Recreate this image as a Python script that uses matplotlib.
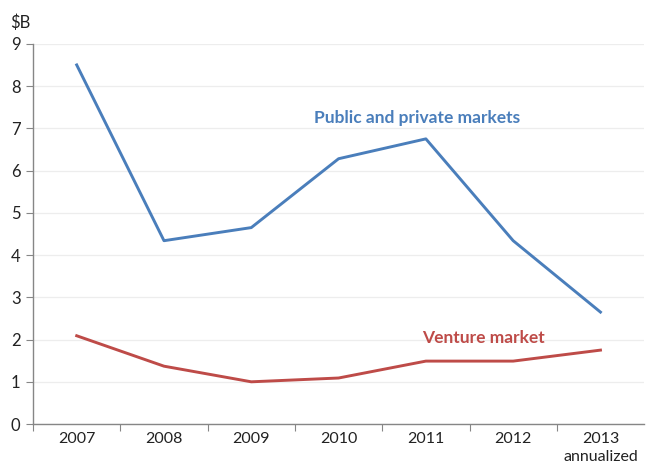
import matplotlib
matplotlib.use("Agg")
import matplotlib.pyplot as plt

years = ["2007", "2008", "2009", "2010", "2011", "2012", "2013\nannualized"]
public_private = [8.5, 4.34, 4.65, 6.28, 6.75, 4.34, 2.65]
venture = [2.09, 1.37, 1.0, 1.09, 1.49, 1.49, 1.75]

BLUE = "#4A7EBB"
RED = "#BE4B48"
AXIS = "#868686"

plt.rcParams["font.family"] = ["Lato", "DejaVu Sans"]

fig = plt.figure(figsize=(6.48, 4.66), dpi=100)
ax = fig.add_axes([0.051, 0.090, 0.943, 0.816])

x = list(range(len(years)))
ax.plot(x, public_private, color=BLUE, lw=2.1)
ax.plot(x, venture, color=RED, lw=2.1)

ax.set_xlim(-0.5, len(years) - 0.5)
ax.set_ylim(0, 9)
ax.set_yticks(range(0, 10))
ax.grid(axis="y", color="#EDEDED", lw=0.9)
ax.set_axisbelow(True)

# category boundaries get tick marks, labels sit in the middle
ax.set_xticks([i - 0.5 for i in range(len(years))])
ax.set_xticklabels([])
ax.set_xticks(x, minor=True)
ax.set_xticklabels(years, minor=True, fontsize=11.5, color="#222222", linespacing=1.35)
ax.tick_params(axis="x", which="minor", length=0, pad=6)
ax.tick_params(axis="x", which="major", length=5, color=AXIS, direction="out")
ax.tick_params(axis="y", length=5, color=AXIS, labelsize=12, labelcolor="#222222", pad=4)

for side in ["top", "right"]:
    ax.spines[side].set_visible(False)
for side in ["left", "bottom"]:
    ax.spines[side].set_color(AXIS)
    ax.spines[side].set_linewidth(1.0)

ax.text(3.9, 7.25, "Public and private markets", color=BLUE, fontsize=12.5,
        fontweight="bold", ha="center", va="center")
ax.text(4.66, 2.04, "Venture market", color=RED, fontsize=12.5,
        fontweight="bold", ha="center", va="center")

fig.text(0.015, 0.952, "$B", fontsize=12, color="#222222", ha="left", va="center")

fig.savefig("out.png", dpi=100)
